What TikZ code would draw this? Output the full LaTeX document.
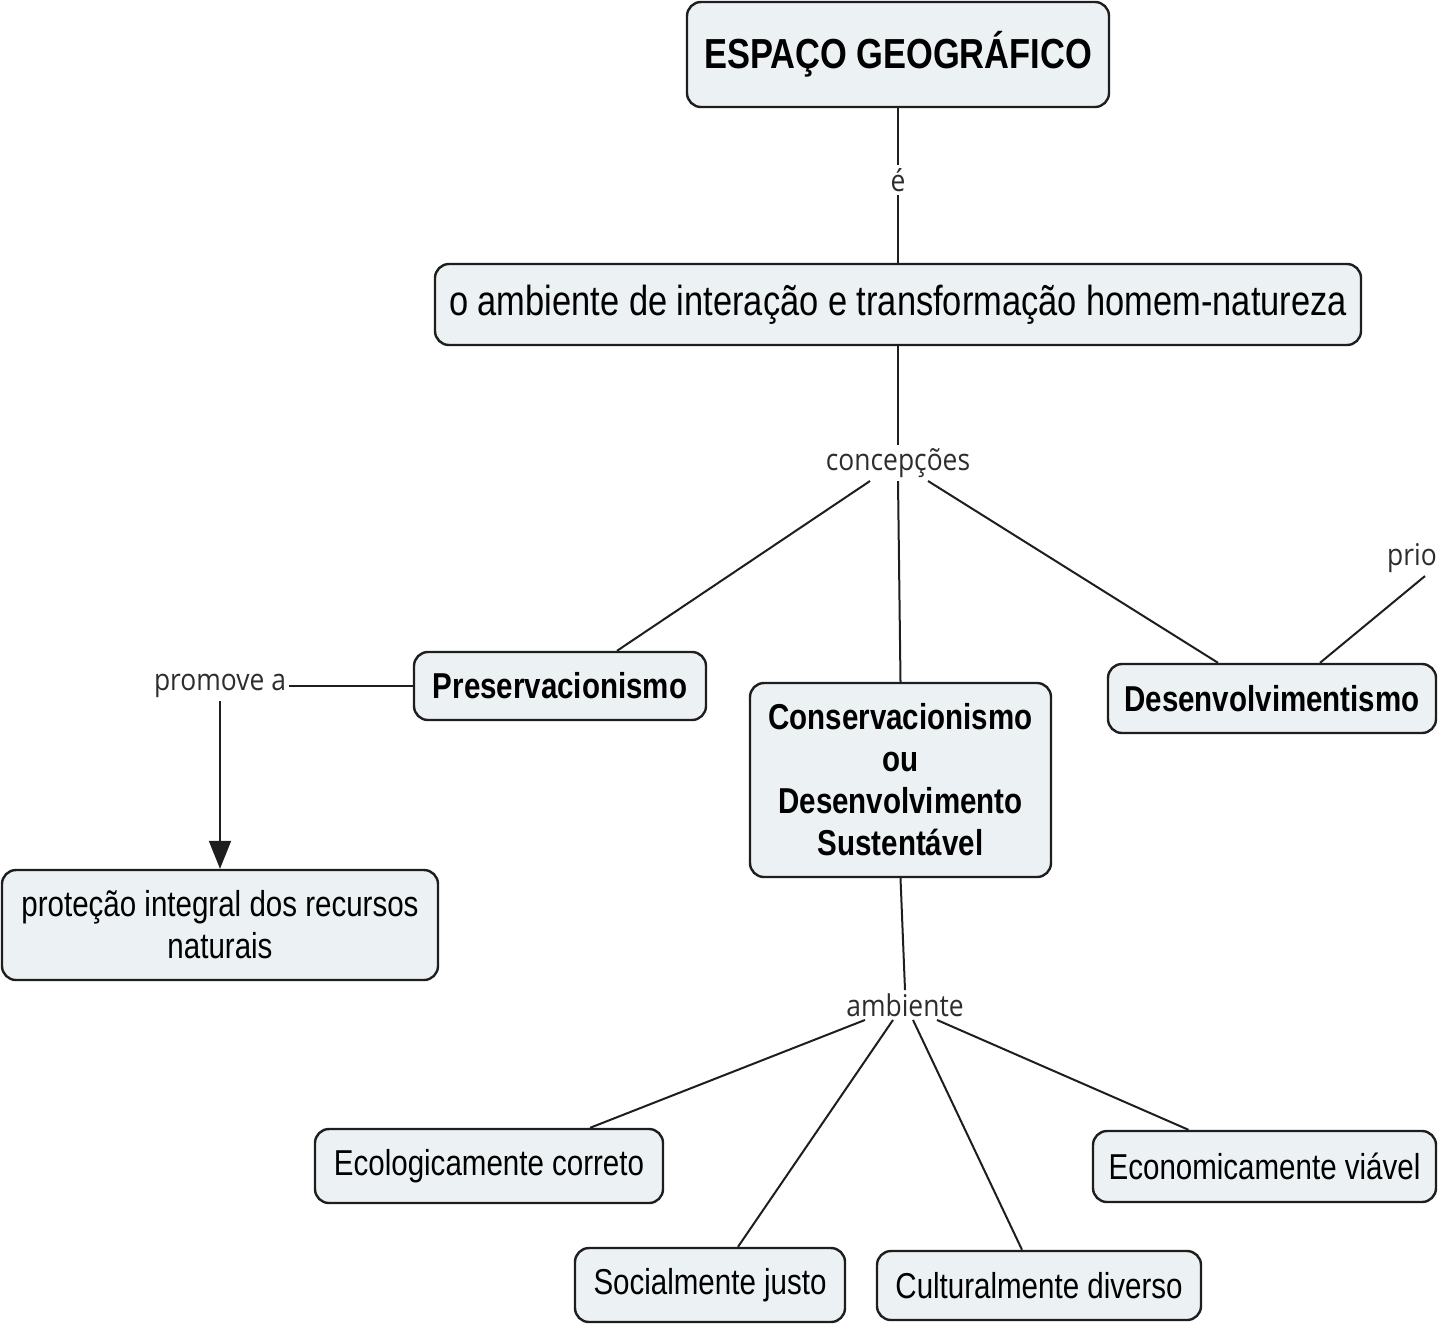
\documentclass[tikz,border=0pt]{standalone}
\usepackage{fontspec}
\usetikzlibrary{arrows.meta}
\newfontfamily\boxfont[FakeStretch=0.82]{Liberation Sans}
\newfontfamily\lblfont[FakeStretch=0.88]{Open Sans}
\definecolor{boxfill}{RGB}{236,241,244}
\definecolor{edge}{RGB}{30,30,30}
\definecolor{lbltext}{RGB}{45,45,45}
\tikzset{
  concept/.style={draw=edge, line width=1.2pt, fill=boxfill, rounded corners=7pt,
    inner sep=0pt, align=center, text=black,
    font=\boxfont\fontsize{18}{21}\selectfont},
  bigconcept/.style={concept, font=\boxfont\fontsize{21}{24}\selectfont},
  linklabel/.style={inner sep=1.5pt, text=lbltext, font=\lblfont\fontsize{15}{18}\selectfont},
  conn/.style={draw=edge, line width=1pt},
  x=0.5pt, y=-0.5pt
}
\begin{document}
\begin{tikzpicture}
\useasboundingbox (0,0) rectangle (1438,1324);
% concepts
\node[bigconcept, minimum width=211pt, minimum height=52.5pt, font=\boxfont\bfseries\fontsize{21}{24}\selectfont] (top) at (898,54.5) {ESPAÇO GEOGRÁFICO};
\node[bigconcept, minimum width=463pt, minimum height=40.5pt] (amb2) at (898,304.5) {o ambiente de interação e transformação homem-natureza};
\node[concept, minimum width=146pt, minimum height=34pt, font=\boxfont\bfseries\fontsize{18}{21}\selectfont] (pres) at (560,686) {Preservacionismo};
\node[concept, minimum width=150.5pt, minimum height=97pt, font=\boxfont\bfseries\fontsize{18}{21}\selectfont] (cons) at (900.5,780) {Conservacionismo\\ou\\Desenvolvimento\\Sustentável};
\node[concept, minimum width=164pt, minimum height=34.5pt, font=\boxfont\bfseries\fontsize{18}{21}\selectfont] (desv) at (1272,698.5) {Desenvolvimentismo};
\node[concept, minimum width=218pt, minimum height=55pt] (prot) at (220,925) {proteção integral dos recursos\\naturais};
\node[concept, minimum width=174pt, minimum height=37pt] (eco) at (489,1166) {Ecologicamente correto};
\node[concept, minimum width=135pt, minimum height=37pt] (soc) at (710,1285) {Socialmente justo};
\node[concept, minimum width=162pt, minimum height=34.5pt] (cult) at (1039,1285.5) {Culturalmente diverso};
\node[concept, minimum width=171.5pt, minimum height=35.5pt] (econ) at (1264.5,1166.5) {Economicamente viável};
% link labels
\node[linklabel] (e) at (898,180) {é};
\node[linklabel] (conc) at (898,463) {concepções};
\node[linklabel] (prom) at (220,686) {promove a};
\node[linklabel] (amb) at (905,1005) {ambiente};
\node[linklabel] (prio) at (1412,558) {prio};
% connectors
\draw[conn] (top.south) -- (e.north);
\draw[conn] (e.south) -- (amb2.north);
\draw[conn] (amb2.south) -- (conc.north);
\draw[conn] ([xshift=-14pt]conc.south) -- ([xshift=28.5pt]pres.north);
\draw[conn] (conc.south) -- (cons.north);
\draw[conn] ([xshift=15pt]conc.south) -- ([xshift=-27pt]desv.north);
\draw[conn] ([xshift=24pt]desv.north) -- ([xshift=6.5pt]prio.south);
\draw[conn] (pres.west) -- (prom.east);
\draw[conn, -{Triangle[length=14pt,width=11pt]}] (prom.south) -- (prot.north);
\draw[conn] (cons.south) -- (amb.north);
\draw[conn] ([xshift=-20pt]amb.south) -- ([xshift=50.5pt]eco.north);
\draw[conn] ([xshift=-6pt]amb.south) -- ([xshift=14pt]soc.north);
\draw[conn] ([xshift=4pt]amb.south) -- ([xshift=-8.5pt]cult.north);
\draw[conn] ([xshift=16pt]amb.south) -- ([xshift=-38pt]econ.north);
\end{tikzpicture}
\end{document}
